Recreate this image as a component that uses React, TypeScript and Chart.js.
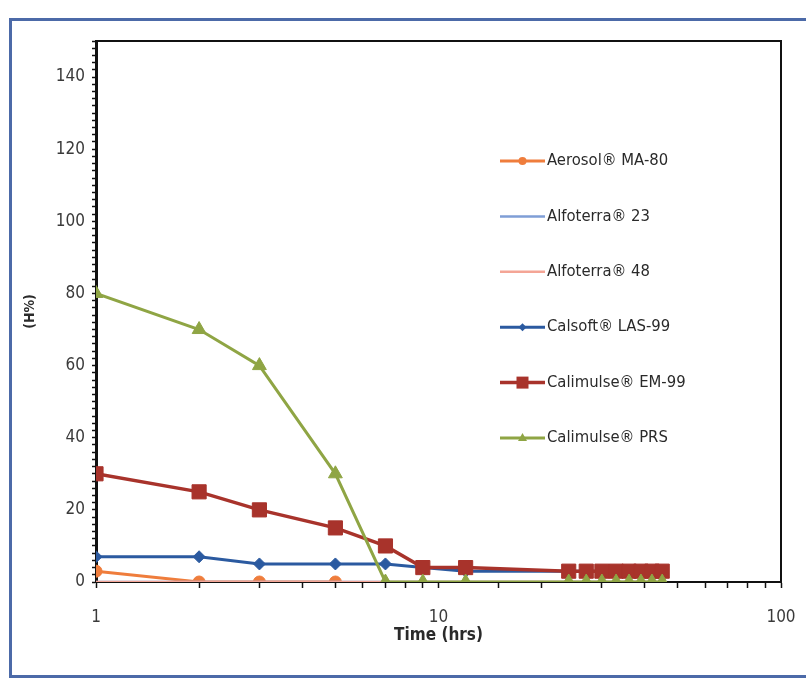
import React, { useEffect, useRef } from 'react';
import { Chart, registerables } from 'chart.js';

Chart.register(...registerables);

// ---- data ----
const timeHours = [1, 2, 3, 5, 7, 9, 12, 24, 27, 30, 33, 36, 39, 42, 45];
const aerosolHours = [1, 2, 3, 5];
const aerosolMA80 = [3, 0, 0, 0];
const alfoterra23 = [0, 0, 0, 0, 0, 0, 0, 0, 0, 0, 0, 0, 0, 0, 0];
const alfoterra48 = [0, 0, 0, 0, 0, 0, 0, 0, 0, 0, 0, 0, 0, 0, 0];
const calsoftLAS99 = [7, 7, 5, 5, 5, 4, 3, 3, 3, 3, 3, 3, 3, 3, 3];
const calimulseEM99 = [30, 25, 20, 15, 10, 4, 4, 3, 3, 3, 3, 3, 3, 3, 3];
const calimulsePRS = [80, 70, 60, 30, 0, 0, 0, 0, 0, 0, 0, 0, 0, 0, 0];

const seriesNames = [
  'Aerosol® MA-80',
  'Alfoterra® 23',
  'Alfoterra® 48',
  'Calsoft® LAS-99',
  'Calimulse® EM-99',
  'Calimulse® PRS',
];
const xTickLabels = [1, 10, 100];
const yTickLabels = [0, 20, 40, 60, 80, 100, 120, 140];

const FONT = "'Liberation Sans Narrow', 'DejaVu Sans Condensed', 'Liberation Sans', sans-serif";

const pts = (xs: number[], ys: number[]) => xs.map((x, i) => ({ x, y: ys[i] }));

type Style = { color: string; width: number; shape: string; r: number; lr: number };
const styles: Style[] = [
  { color: '#EF7D3C', width: 3, shape: 'circle', r: 6, lr: 4 },
  { color: '#7F9ED6', width: 2.5, shape: 'none', r: 0, lr: 0 },
  { color: '#F4A596', width: 2.5, shape: 'none', r: 0, lr: 0 },
  { color: '#2B5AA0', width: 3, shape: 'rectRot', r: 6, lr: 4 },
  { color: '#A8332B', width: 3.5, shape: 'rect', r: 10, lr: 8 },
  { color: '#8FA544', width: 3, shape: 'triangle', r: 8, lr: 5 },
];

function drawMarker(ctx: CanvasRenderingContext2D, shape: string, x: number, y: number, r: number, color: string) {
  if (shape === 'none') return;
  ctx.save();
  ctx.fillStyle = color;
  ctx.beginPath();
  if (shape === 'circle') {
    ctx.arc(x, y, r, 0, Math.PI * 2);
  } else if (shape === 'rectRot') {
    ctx.moveTo(x, y - r);
    ctx.lineTo(x + r, y);
    ctx.lineTo(x, y + r);
    ctx.lineTo(x - r, y);
    ctx.closePath();
  } else if (shape === 'rect') {
    ctx.rect(x - r * 0.75, y - r * 0.75, r * 1.5, r * 1.5);
  } else if (shape === 'triangle') {
    ctx.moveTo(x, y - r);
    ctx.lineTo(x + r * 0.9, y + r * 0.6);
    ctx.lineTo(x - r * 0.9, y + r * 0.6);
    ctx.closePath();
  }
  ctx.fill();
  ctx.restore();
}

const framePlugin = {
  id: 'frame',
  beforeDraw(chart: any) {
    const ctx = chart.ctx as CanvasRenderingContext2D;
    ctx.save();
    ctx.fillStyle = '#ffffff';
    ctx.fillRect(0, 0, chart.width, chart.height);
    ctx.strokeStyle = '#4C6AA8';
    ctx.lineWidth = 3;
    ctx.strokeRect(10.5, 19.5, chart.width + 20, 657);
    ctx.restore();
  },
  beforeDatasetsDraw(chart: any) {
    const ctx = chart.ctx as CanvasRenderingContext2D;
    const a = chart.chartArea;
    ctx.save();
    ctx.strokeStyle = '#111111';
    ctx.lineWidth = 2;
    ctx.strokeRect(a.left, a.top, a.right - a.left, a.bottom - a.top);
    ctx.restore();
  },
  afterDraw(chart: any) {
    const ctx = chart.ctx as CanvasRenderingContext2D;
    const x0 = 500;
    const x1 = 545;
    ctx.save();
    ctx.font = `16.5px ${FONT}`;
    ctx.textBaseline = 'middle';
    ctx.textAlign = 'left';
    seriesNames.forEach((name, i) => {
      const s = styles[i];
      const y = 161 + i * 55.4;
      ctx.strokeStyle = s.color;
      ctx.lineWidth = s.width;
      ctx.beginPath();
      ctx.moveTo(x0, y);
      ctx.lineTo(x1, y);
      ctx.stroke();
      drawMarker(ctx, s.shape, (x0 + x1) / 2, y, s.lr, s.color);
      ctx.fillStyle = '#2a2a2a';
      ctx.fillText(name, x1 + 2, y);
    });
    ctx.restore();
  },
};

export default function App() {
  const ref = useRef<HTMLCanvasElement | null>(null);

  useEffect(() => {
    if (!ref.current) return;
    const seriesData = [
      pts(aerosolHours, aerosolMA80),
      pts(timeHours, alfoterra23),
      pts(timeHours, alfoterra48),
      pts(timeHours, calsoftLAS99),
      pts(timeHours, calimulseEM99),
      pts(timeHours, calimulsePRS),
    ];
    const datasets = seriesNames.map((name, i) => {
      const s = styles[i];
      return {
        label: name,
        data: seriesData[i],
        borderColor: s.color,
        backgroundColor: s.color,
        borderWidth: s.width,
        pointStyle: s.shape === 'none' ? false : s.shape,
        pointRadius: s.r,
        pointBorderWidth: 1,
        pointBackgroundColor: s.color,
        pointBorderColor: s.color,
        tension: 0,
        order: seriesNames.length - i,
      };
    });

    const chart = new Chart(ref.current, {
      type: 'line',
      data: { datasets: datasets as any },
      options: {
        animation: false,
        responsive: false,
        layout: { padding: { left: 0, right: 25, top: 41, bottom: 0 } },
        plugins: { legend: { display: false }, tooltip: { enabled: false } },
        scales: {
          x: {
            type: 'logarithmic',
            min: 1,
            max: 100,
            afterFit: (s: any) => {
              s.height = 97;
              s.paddingLeft = 0;
              s.paddingRight = 0;
            },
            border: { display: true, color: '#111111', width: 2 },
            grid: { drawOnChartArea: false, color: '#111111', tickLength: 6, tickWidth: 1.5 },
            ticks: {
              autoSkip: false,
              maxRotation: 0,
              padding: 19,
              color: '#3a3a3a',
              font: { family: FONT, size: 17 },
              callback: (v: any) => {
                const n = Number(v);
                return xTickLabels.some((t) => Math.abs(t - n) < 1e-6) ? String(n) : '';
              },
            },
            title: {
              display: true,
              text: 'Time (hrs)',
              color: '#2a2a2a',
              font: { family: FONT, size: 17, weight: 'bold' },
              padding: { top: 0, bottom: 33 },
            },
          },
          y: {
            type: 'linear',
            min: 0,
            max: 150,
            afterFit: (s: any) => {
              s.width = 96;
              s.paddingTop = 0;
              s.paddingBottom = 0;
            },
            border: { display: true, color: '#111111', width: 3 },
            grid: { drawOnChartArea: false, color: '#111111', tickLength: 4, tickWidth: 1.5 },
            ticks: {
              stepSize: 2,
              autoSkip: false,
              padding: 7,
              color: '#3a3a3a',
              font: { family: FONT, size: 17 },
              callback: (v: any) => {
                const n = Number(v);
                return yTickLabels.includes(n) ? String(n) : '';
              },
            },
            title: {
              display: true,
              text: '(H%)',
              color: '#2a2a2a',
              font: { family: FONT, size: 14, weight: 'bold' },
              padding: { top: 22, bottom: 0 },
            },
          },
        },
      },
      plugins: [framePlugin],
    });
    return () => chart.destroy();
  }, []);

  return (
    <div style={{ position: 'absolute', left: 0, top: 0, width: 806, height: 679 }}>
      <canvas ref={ref} width={806} height={679} style={{ display: 'block' }} />
    </div>
  );
}
